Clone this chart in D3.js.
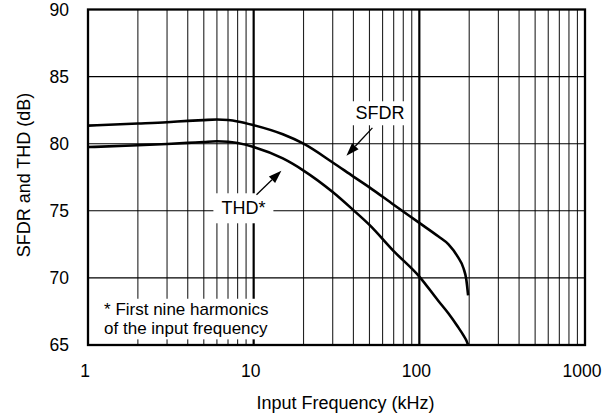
<!DOCTYPE html>
<html><head><meta charset="utf-8">
<script src="https://cdn.jsdelivr.net/npm/d3@7"></script>
<style>html,body{margin:0;padding:0;background:#fff;}svg{display:block;}</style>
</head><body>
<svg id="c" width="607" height="418"></svg>
<script>
const freqs = [1, 2, 3, 4, 5, 6, 7, 8, 10, 15, 20, 30, 40, 50, 70, 100, 130, 150, 170, 185, 192, 197];
const sfdr  = [81.35, 81.5, 81.6, 81.7, 81.76, 81.8, 81.76, 81.66, 81.38, 80.7, 80.0, 78.6, 77.55, 76.75, 75.45, 74.1, 73.1, 72.5, 71.6, 70.7, 69.9, 68.7];
const thd   = [79.75, 79.88, 79.98, 80.06, 80.13, 80.18, 80.15, 80.05, 79.76, 78.9, 78.0, 76.4, 75.05, 73.95, 72.0, 70.1, 68.3, 67.35, 66.4, 65.7, 65.35, 65.0];
const xTicks = [1, 10, 100, 1000];
const yTicks = [65, 70, 75, 80, 85, 90];
const xTickLabels = ["1", "10", "100", "1000"];
const yTickLabels = ["65", "70", "75", "80", "85", "90"];
const xTitle = "Input Frequency (kHz)";
const yTitle = "SFDR and THD (dB)";
const footnote = ["* First nine harmonics", "of the input frequency"];

const font = '"Liberation Sans", Arial, Helvetica, sans-serif';
const svg = d3.select("#c");
const L = 88, R = 585, T = 9.5, B = 345;
const x = d3.scaleLog().domain([1, 1000]).range([L, R]);
const y = d3.scaleLinear().domain([65, 90]).range([B, T]);

// minor vertical grid
const minors = [];
[1, 10, 100].forEach(d => { for (let k = 2; k <= 9; k++) minors.push(d * k); });
const g = svg.append("g");
g.selectAll("line.minor").data(minors).enter().append("line")
  .attr("x1", d => x(d)).attr("x2", d => x(d)).attr("y1", T).attr("y2", B)
  .attr("stroke", "#222").attr("stroke-width", 1.1);
g.selectAll("line.major").data([10, 100]).enter().append("line")
  .attr("x1", d => x(d)).attr("x2", d => x(d)).attr("y1", T).attr("y2", B)
  .attr("stroke", "#000").attr("stroke-width", 2.2);
g.selectAll("line.h").data(yTicks.slice(1, -1)).enter().append("line")
  .attr("x1", L).attr("x2", R).attr("y1", d => y(d)).attr("y2", d => y(d))
  .attr("stroke", "#000").attr("stroke-width", 1.1);

// annotations with white backgrounds
function label(txt, fx, fy, padX, padY) {
  const t = svg.append("text").attr("x", x(fx)).attr("y", y(fy)).attr("dy", "0.35em")
    .attr("text-anchor", "middle").attr("font-family", font).attr("font-size", 18).text(txt);
  const bb = t.node().getBBox();
  svg.insert("rect", () => t.node()).attr("x", bb.x - padX).attr("y", bb.y - padY)
    .attr("width", bb.width + 2 * padX).attr("height", bb.height + 2 * padY).attr("fill", "#fff");
  return t;
}
label("SFDR", 57.8, 82.29, 5, 2);
label("THD*", 8.67, 75.21, 8, 5);

// footnote
const fnG = svg.append("g");
footnote.forEach((d, i) => {
  fnG.append("text").attr("x", x(1.25)).attr("y", y(67.18) - 1 + i * 19.6)
    .attr("font-family", font).attr("font-size", 17).text(d);
});
const fbb = fnG.node().getBBox();
svg.insert("rect", () => fnG.node()).attr("x", fbb.x - 10).attr("y", fbb.y - 1)
  .attr("width", fbb.width + 16).attr("height", fbb.height + 2).attr("fill", "#fff");

// curves
const line = d3.line().x(d => x(d[0])).y(d => y(d[1])).curve(d3.curveMonotoneX);
[sfdr, thd].forEach(s => {
  svg.append("path").datum(freqs.map((f, i) => [f, s[i]])).attr("d", line)
    .attr("fill", "none").attr("stroke", "#000").attr("stroke-width", 2.6).attr("stroke-linecap", "butt");
});

// arrows
function arrow(f0, v0, f1, v1) {
  const x0 = x(f0), y0 = y(v0), x1 = x(f1), y1 = y(v1);
  const a = Math.atan2(y1 - y0, x1 - x0), len = 13, w = 4.5;
  const bx = x1 - len * Math.cos(a), by = y1 - len * Math.sin(a);
  svg.append("line").attr("x1", x0).attr("y1", y0).attr("x2", bx).attr("y2", by)
    .attr("stroke", "#000").attr("stroke-width", 1.3);
  const p = [[x1, y1], [bx + w * Math.sin(a), by - w * Math.cos(a)], [bx - w * Math.sin(a), by + w * Math.cos(a)]];
  svg.append("path").attr("d", "M" + p.map(q => q.join(",")).join("L") + "Z").attr("fill", "#000");
}
arrow(52.1, 81.18, 36.3, 79.1);
arrow(10.4, 76.2, 14.7, 77.98);

// frame
svg.append("rect").attr("x", L).attr("y", T).attr("width", R - L).attr("height", B - T)
  .attr("fill", "none").attr("stroke", "#000").attr("stroke-width", 2.3);

// tick labels
svg.selectAll("text.xt").data(xTicks).enter().append("text")
  .attr("x", d => x(d) - 3).attr("y", B + 31.7).attr("text-anchor", "middle")
  .attr("font-family", font).attr("font-size", 17.5).text((d, i) => xTickLabels[i]);
svg.selectAll("text.yt").data(yTicks).enter().append("text")
  .attr("x", L - 19).attr("y", d => y(d)).attr("dy", "0.36em").attr("text-anchor", "end")
  .attr("font-family", font).attr("font-size", 17.5).text((d, i) => yTickLabels[i]);

// titles
svg.append("text").attr("x", 345.5).attr("y", 409).attr("text-anchor", "middle")
  .attr("font-family", font).attr("font-size", 18).text(xTitle);
svg.append("text").attr("transform", "translate(30,175) rotate(-90)").attr("text-anchor", "middle")
  .attr("font-family", font).attr("font-size", 18).text(yTitle);
</script>
</body></html>
